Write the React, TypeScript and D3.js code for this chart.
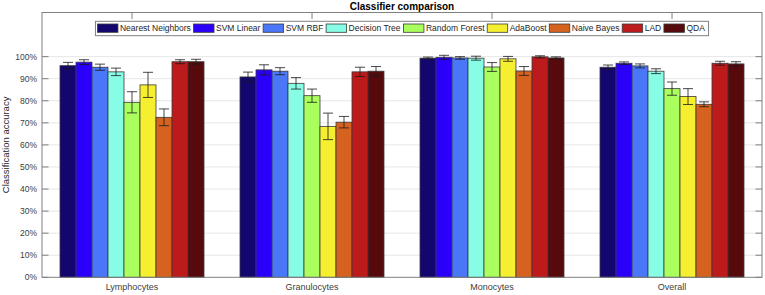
import React, { useMemo } from "react";
import * as d3 from "d3";

const categories = ["Lymphocytes", "Granulocytes", "Monocytes", "Overall"];
const seriesNames = [
  "Nearest Neighbors",
  "SVM Linear",
  "SVM RBF",
  "Decision Tree",
  "Random Forest",
  "AdaBoost",
  "Naive Bayes",
  "LAD",
  "QDA",
];
const seriesColors = [
  "#13066f",
  "#2a00fb",
  "#4a77f7",
  "#88fde6",
  "#aaff5e",
  "#f5ef30",
  "#d5631f",
  "#bd1a1b",
  "#570a0c",
];
// accuracy per category (rows = categories, cols = series)
const lymphocytes = [0.959, 0.975, 0.952, 0.931, 0.793, 0.872, 0.725, 0.977, 0.977];
const granulocytes = [0.908, 0.94, 0.934, 0.879, 0.823, 0.684, 0.703, 0.931, 0.934];
const monocytes = [0.993, 0.997, 0.994, 0.993, 0.953, 0.99, 0.935, 0.999, 0.994];
const overall = [0.952, 0.97, 0.958, 0.934, 0.855, 0.819, 0.784, 0.97, 0.967];
const lymphocytesErr = [0.015, 0.011, 0.014, 0.017, 0.048, 0.057, 0.038, 0.009, 0.011];
const granulocytesErr = [0.022, 0.023, 0.016, 0.026, 0.03, 0.06, 0.026, 0.021, 0.021];
const monocytesErr = [0.005, 0.009, 0.006, 0.009, 0.02, 0.011, 0.02, 0.005, 0.005];
const overallErr = [0.01, 0.006, 0.009, 0.011, 0.03, 0.036, 0.011, 0.009, 0.01];
const yTicks = [0, 0.1, 0.2, 0.3, 0.4, 0.5, 0.6, 0.7, 0.8, 0.9, 1.0];

const values = [lymphocytes, granulocytes, monocytes, overall];
const errors = [lymphocytesErr, granulocytesErr, monocytesErr, overallErr];

const W = 765;
const H = 295;
const FONT = "'Liberation Sans', Arial, Helvetica, sans-serif";

export default function App() {
  const left = 42;
  const right = 762;
  const top = 12.5;
  const bottom = 277.3;

  const x = d3.scaleBand<string>().domain(categories).range([left, right]).paddingInner(0.2).paddingOuter(0.1);
  const xs = d3.scaleBand<string>().domain(seriesNames).range([0, x.bandwidth()]).padding(0);
  const y = d3.scaleLinear().domain([0, 1.2]).range([bottom, top]);
  const fmt = d3.format(".0%");

  const legendFont = 8.5;
  const legend = useMemo(() => {
    const c = document.createElement("canvas").getContext("2d")!;
    c.font = `${legendFont}px 'Liberation Sans'`;
    const sw = 20.5;
    const gap1 = 2;
    const gap2 = 2.7;
    const padL = 2;
    const padR = 3.7;
    const widths = seriesNames.map((s) => c.measureText(s).width);
    const total = padL + padR + widths.reduce((a, w) => a + sw + gap1 + w, 0) + gap2 * (seriesNames.length - 1);
    const x0 = (left + right) / 2 - total / 2;
    let cur = x0 + padL;
    const items = seriesNames.map((s, i) => {
      const it = { name: s, sx: cur, tx: cur + sw + gap1, color: seriesColors[i] };
      cur += sw + gap1 + widths[i] + gap2;
      return it;
    });
    return { x0, total, items, sw };
  }, []);

  return (
    <svg
      width={W}
      height={H}
      style={{ position: "absolute", left: 0, top: 0, background: "#fff" }}
      fontFamily={FONT}
    >
      <rect x={0} y={0} width={W} height={H} fill="#fff" />
      {/* gridlines */}
      {yTicks.slice(1).map((t) => (
        <line key={t} x1={left} x2={right} y1={y(t)} y2={y(t)} stroke="#e6e6e6" strokeWidth={1} />
      ))}
      {/* ticks top/bottom */}
      {categories.map((c) => {
        const cx = x(c)! + x.bandwidth() / 2;
        return (
          <g key={c}>
            <line x1={cx} x2={cx} y1={top} y2={top + 6.5} stroke="#808080" />
            <line x1={cx} x2={cx} y1={bottom} y2={bottom - 6.5} stroke="#808080" />
          </g>
        );
      })}
      {yTicks.map((t) => (
        <g key={t}>
          <line x1={left} x2={left + 6.5} y1={y(t)} y2={y(t)} stroke="#808080" />
          <line x1={right} x2={right - 6.5} y1={y(t)} y2={y(t)} stroke="#808080" />
          <text x={left - 5} y={y(t) + 3} textAnchor="end" fontSize={8.5} fill="#404040">
            {fmt(t)}
          </text>
        </g>
      ))}
      {/* bars */}
      {categories.map((c, ci) => (
        <g key={c}>
          {seriesNames.map((s, si) => {
            const bx = x(c)! + xs(s)!;
            const v = values[ci][si];
            return (
              <rect
                key={s}
                x={bx}
                y={y(v)}
                width={xs.bandwidth()}
                height={y(0) - y(v)}
                fill={seriesColors[si]}
                stroke="#3a3a3a"
                strokeWidth={0.8}
              />
            );
          })}
        </g>
      ))}
      {/* error bars */}
      {categories.map((c, ci) => (
        <g key={c}>
          {seriesNames.map((s, si) => {
            const cx = x(c)! + xs(s)! + xs.bandwidth() / 2;
            const v = values[ci][si];
            const e = errors[ci][si];
            const cap = 5;
            return (
              <g key={s} stroke="#1a1a1a" strokeWidth={0.8}>
                <line x1={cx} x2={cx} y1={y(v - e)} y2={y(v + e)} />
                <line x1={cx - cap} x2={cx + cap} y1={y(v - e)} y2={y(v - e)} />
                <line x1={cx - cap} x2={cx + cap} y1={y(v + e)} y2={y(v + e)} />
              </g>
            );
          })}
        </g>
      ))}
      {/* axes box */}
      <rect x={left} y={top} width={right - left} height={bottom - top} fill="none" stroke="#808080" strokeWidth={1} />
      {/* x labels */}
      {categories.map((c) => (
        <text key={c} x={x(c)! + x.bandwidth() / 2} y={289.6} textAnchor="middle" fontSize={9} fill="#404040">
          {c}
        </text>
      ))}
      {/* y label */}
      <text
        transform={`translate(8.5, ${(top + bottom) / 2}) rotate(-90)`}
        textAnchor="middle"
        fontSize={9.5}
        fill="#262626"
      >
        Classification accuracy
      </text>
      {/* title */}
      <text x={(left + right) / 2} y={9.5} textAnchor="middle" fontSize={10} fontWeight="bold" fill="#000">
        Classifier comparison
      </text>
      {/* legend */}
      <g>
        <rect x={legend.x0} y={21.3} width={legend.total} height={14.4} fill="#fff" stroke="#808080" strokeWidth={1} />
        {legend.items.map((it) => (
          <g key={it.name}>
            <rect x={it.sx} y={24} width={legend.sw} height={8.3} fill={it.color} stroke="#3a3a3a" strokeWidth={0.8} />
            <text x={it.tx} y={31.3} fontSize={legendFont} fill="#262626">
              {it.name}
            </text>
          </g>
        ))}
      </g>
    </svg>
  );
}
